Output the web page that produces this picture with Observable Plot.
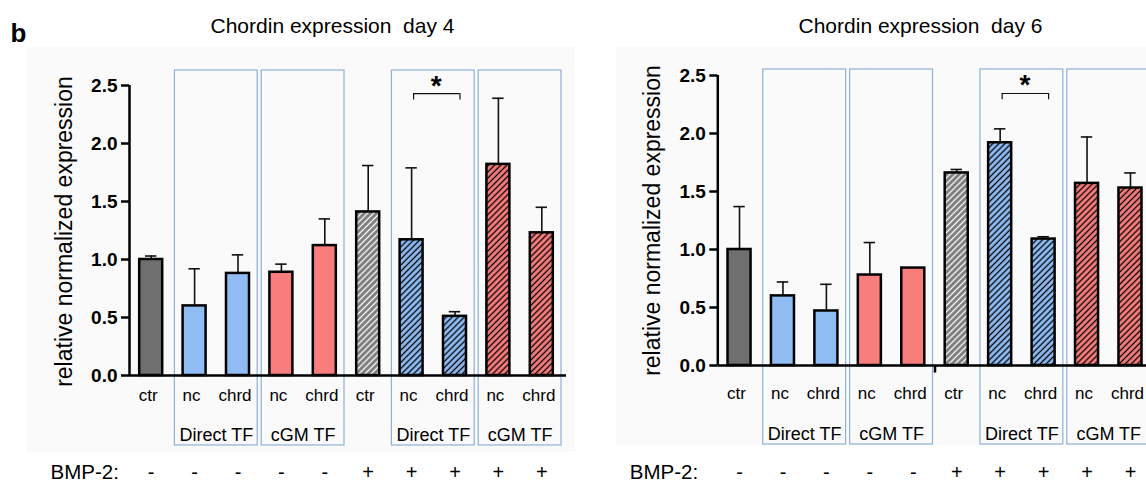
<!DOCTYPE html>
<html><head><meta charset="utf-8">
<script src="https://cdn.jsdelivr.net/npm/d3@7"></script>
<script src="https://cdn.jsdelivr.net/npm/@observablehq/plot@0.6"></script>
<style>
html,body{margin:0;padding:0;background:#fff;overflow:hidden;}
#wrap{position:relative;width:1146px;height:483px;overflow:hidden;}
.panel{position:absolute;top:0;}
.panel svg{max-width:none !important;}
.bg{position:absolute;background:#fafafa;}
</style></head><body>
<div id="wrap">
 <div class="bg" style="left:26px;top:47px;width:549px;height:405px"></div>
 <div class="bg" style="left:616px;top:47px;width:530px;height:398px"></div>
</div>
<script>
// ---- data ----
const labels  = ["ctr","nc","chrd","nc","chrd","ctr","nc","chrd","nc","chrd"];
const groups  = ["","Direct TF","Direct TF","cGM TF","cGM TF","","Direct TF","Direct TF","cGM TF","cGM TF"];
const bmp     = ["-","-","-","-","-","+","+","+","+","+"];
const kinds   = ["gray","blue","blue","red","red","gray","blue","blue","red","red"];
const hatched = [false,false,false,false,false,true,true,true,true,true];
const titles  = ["Chordin expression\u00a0 day 4","Chordin expression\u00a0 day 6"];
const yTicks  = [0,0.5,1,1.5,2,2.5];
const day4Mean = [1.00,0.60,0.88,0.89,1.12,1.41,1.17,0.51,1.82,1.23];
const day4Err  = [0.03,0.32,0.16,0.07,0.23,0.40,0.62,0.04,0.57,0.22];
const day6Mean = [1.00,0.60,0.47,0.78,0.84,1.66,1.92,1.09,1.57,1.53];
const day6Err  = [0.37,0.12,0.23,0.28,0.00,0.03,0.12,0.02,0.40,0.13];
const sigPair  = {a: 6, b: 7, text: "*"};

// ---- styling ----
const font = "'Liberation Sans', Arial, Helvetica, sans-serif";
const solid = {gray: "#6f6f6f", blue: "#8ebcf3", red: "#f87d7d"};

function patternDefs(id) {
  const p = (name, bg, line) => `<pattern id="${id}-${name}" patternUnits="userSpaceOnUse" width="4.3" height="4.3" patternTransform="rotate(45)"><rect width="4.3" height="4.3" fill="${bg}"/><line x1="2.15" y1="0" x2="2.15" y2="4.3" stroke="${line}" stroke-width="1.3"/></pattern>`;
  return p("gray", "#7b7b7b", "#ffffff") + p("blue", "#8ebcf3", "#000000") + p("red", "#f87d7d", "#000000");
}

const cfgs = [
  {id:"d4", title:titles[0], mean:day4Mean, err:day4Err, left:0, width:580, ml:129, mr:17, mt:85, mb:108,
   catDy:20, boxDy:60, bmpDy:97, titleDx:-14, titleDy:-59, ylabDx:-65, ylabDy:1, bmpLabelDx:-79,
   boxY:[-0.603, 2.629], sigY:2.43, letter:"b", axisEnd:9.57, breakTick:false},
  {id:"d6", title:titles[1], mean:day6Mean, err:day6Err, left:580, width:620, ml:137.3, mr:48.3, mt:75, mb:118,
   catDy:28, boxDy:69, bmpDy:107, titleDx:-14.5, titleDy:-49, ylabDx:-65, ylabDy:0, bmpLabelDx:-88,
   boxY:[-0.681, 2.552], sigY:2.345, letter:null, axisEnd:9.8, breakTick:true}
];

function makePanel(cfg) {
  const data = labels.map((label, i) => ({
    i, label, bmp: bmp[i], mean: cfg.mean[i], err: cfg.err[i],
    fill: hatched[i] ? `url(#${cfg.id}-${kinds[i]})` : solid[kinds[i]]
  }));
  const errData = data.filter(d => d.err > 0);
  const boxes = [];
  for (let k = 0; k < groups.length; ) {
    let j = k;
    while (j + 1 < groups.length && groups[j + 1] === groups[k]) j++;
    if (groups[k]) boxes.push({name: groups[k], from: k, to: j});
    k = j + 1;
  }
  const marks = [
    Plot.rect(boxes, {x1: d => d.from - 0.5, x2: d => d.to + 0.5, y1: () => cfg.boxY[0], y2: () => cfg.boxY[1],
      insetLeft: 2, insetRight: 2, fill: "none", stroke: "#8fb0d9", strokeWidth: 1.2}),
    Plot.ruleX(errData, {x: "i", y1: "mean", y2: d => d.mean + d.err, stroke: "#111", strokeWidth: 1.6}),
    Plot.ruleY(errData, {x1: d => d.i - 0.5, x2: d => d.i + 0.5, y: d => d.mean + d.err, insetLeft: 16, insetRight: 16, stroke: "#111", strokeWidth: 1.6}),
    Plot.rect(data, {x1: d => d.i - 0.5, x2: d => d.i + 0.5, y1: () => 0, y2: "mean", insetLeft: 10.2, insetRight: 10.2,
      fill: "fill", stroke: "#000", strokeWidth: 2.5}),
    Plot.ruleY([0], {x1: () => -0.5, x2: () => cfg.axisEnd, stroke: "#000", strokeWidth: 2.5}),
    Plot.ruleX([-0.5], {y1: () => 0, y2: () => 2.5, stroke: "#000", strokeWidth: 2.5}),
    Plot.axisY({ticks: yTicks, tickFormat: d => d.toFixed(1), tickSize: 8, tickPadding: 4, fontSize: 19,
      fontWeight: "bold", strokeWidth: 2.5, label: null, anchor: "left"}),
    Plot.text(data, {x: "i", y: () => 0, text: "label", dx: -3, dy: cfg.catDy, fontSize: 17}),
    Plot.text(boxes, {x: d => (d.from + d.to) / 2, y: () => 0, text: "name", dy: cfg.boxDy, fontSize: 18}),
    Plot.text(data, {x: "i", y: () => 0, text: "bmp", dy: cfg.bmpDy, fontSize: 20}),
    Plot.text(["BMP-2:"], {frameAnchor: "bottom-left", textAnchor: "start", lineAnchor: "middle", dx: cfg.bmpLabelDx, dy: cfg.bmpDy, fontSize: 20.5}),
    Plot.text([cfg.title], {frameAnchor: "top", lineAnchor: "middle", dx: cfg.titleDx, dy: cfg.titleDy, fontSize: 21}),
    Plot.text(["relative normalized expression"], {frameAnchor: "left", textAnchor: "middle", lineAnchor: "middle", rotate: -90, dx: cfg.ylabDx, dy: cfg.ylabDy, fontSize: 23}),
    // significance bracket
    Plot.ruleY([sigPair], {x1: "a", x2: "b", y: () => cfg.sigY, dx: 2, insetRight: -3, stroke: "#111", strokeWidth: 1.2}),
    Plot.ruleX([sigPair], {x: "a", y1: () => cfg.sigY, y2: () => cfg.sigY - 0.055, dx: 2, stroke: "#111", strokeWidth: 1.2}),
    Plot.ruleX([sigPair], {x: "b", y1: () => cfg.sigY, y2: () => cfg.sigY - 0.055, dx: 5, stroke: "#111", strokeWidth: 1.2}),
    Plot.text([sigPair], {x: d => (d.a + d.b) / 2, y: () => cfg.sigY, text: "text", dx: 3, dy: -8, fontSize: 28, fontWeight: "bold"})
  ];
  if (cfg.letter) marks.push(Plot.text([cfg.letter], {frameAnchor: "top-left", textAnchor: "start", lineAnchor: "middle", dx: -119, dy: -52, fontSize: 26, fontWeight: "bold"}));
  if (cfg.breakTick) marks.push(Plot.ruleX([4.5], {y1: () => 0, y2: () => -0.065, stroke: "#000", strokeWidth: 2.5}));

  const svg = Plot.plot({
    width: cfg.width, height: 483,
    marginLeft: cfg.ml, marginRight: cfg.mr, marginTop: cfg.mt, marginBottom: cfg.mb,
    x: {type: "linear", domain: [-0.5, 9.5], axis: null},
    y: {domain: [0, 2.5], axis: null},
    color: {type: "identity"},
    style: {fontFamily: font, background: "transparent", overflow: "visible", color: "#000", maxWidth: "none"},
    marks
  });
  svg.style.maxWidth = "none";
  d3.select(svg).insert("defs", ":first-child").html(patternDefs(cfg.id));
  const div = document.createElement("div");
  div.className = "panel";
  div.style.left = cfg.left + "px";
  div.style.width = cfg.width + "px";
  div.appendChild(svg);
  document.getElementById("wrap").appendChild(div);
}
cfgs.forEach(makePanel);
</script>
</body></html>
